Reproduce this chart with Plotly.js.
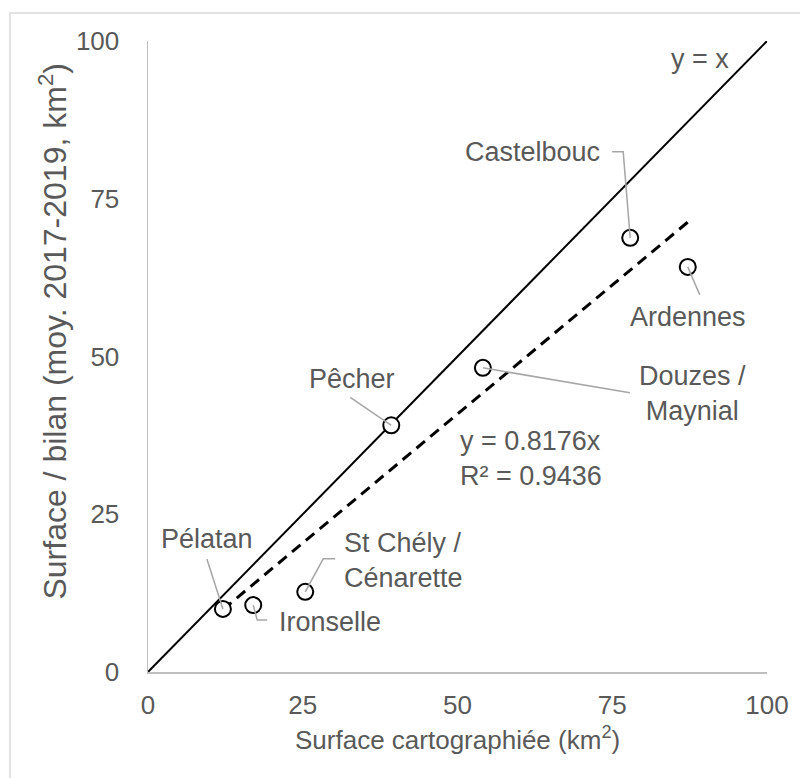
<!DOCTYPE html>
<html>
<head>
<meta charset="utf-8">
<script src="https://cdn.plot.ly/plotly-3.0.1.min.js"></script>
<style>html,body{margin:0;padding:0;background:#fff;}#chart{width:800px;height:778px;}</style>
</head>
<body>
<div id="chart"></div>
<script>
// Data
const sites = ["Pélatan", "Ironselle", "St Chély /<br>Cénarette", "Pêcher", "Douzes /<br>Maynial", "Castelbouc", "Ardennes"];
const surfaceCarto = [12.1, 17.0, 25.4, 39.3, 54.1, 77.9, 87.2];
const surfaceBilan = [10.0, 10.6, 12.7, 39.1, 48.2, 68.8, 64.2];
const trendSlope = 0.8176;
const trendR2 = 0.9436;
const tickVals = [0, 25, 50, 75, 100];

// Label placement (pixel offsets relative to each point)
const labelPos = [
  {dx: -16, dy: 70, anchor: "center", align: "center"},
  {dx: 24, dy: -17, anchor: "left", align: "left"},
  {dx: 37, dy: 31, anchor: "left", align: "left"},
  {dx: -39, dy: 46, anchor: "center", align: "center"},
  {dx: 210, dy: -26, anchor: "center", align: "center"},
  {dx: -98, dy: 86, anchor: "center", align: "center"},
  {dx: 0, dy: -50, anchor: "center", align: "center"}
];
const leaderPaths = [
  "M0,0 L-16,50",
  "M0,0 L4,-15 L14,-15",
  "M0,0 L18,33 L30,33",
  "M0,0 L-41,28",
  "M0,0 L147,-25",
  "M0,0 L-7,86 L-18,86",
  "M0,0 L12,-28"
];

const FONT = "Liberation Sans, Arial, sans-serif";
const GREY = "#595959";

const xMin = Math.min(...surfaceCarto), xMax = Math.max(...surfaceCarto);

const traces = [
  {x: [0, 100], y: [0, 100], mode: "lines", line: {color: "#000", width: 2}, hoverinfo: "skip"},
  {x: [xMin, xMax], y: [trendSlope * xMin, trendSlope * xMax], mode: "lines",
   line: {color: "#000", width: 3, dash: "11px,7px"}, hoverinfo: "skip"},
  {x: surfaceCarto, y: surfaceBilan, mode: "markers", text: sites,
   marker: {symbol: "circle", size: 16, color: "#fff", line: {color: "#000", width: 2}}}
];

const annotations = sites.map((s, i) => ({
  x: surfaceCarto[i], y: surfaceBilan[i], xref: "x", yref: "y",
  text: s, showarrow: false, xshift: labelPos[i].dx, yshift: labelPos[i].dy,
  xanchor: labelPos[i].anchor, yanchor: "middle", align: labelPos[i].align,
  font: {family: FONT, size: 27, color: GREY}
}));
annotations.push({x: 89.2, y: 97.1, xref: "x", yref: "y", text: "y = x", showarrow: false,
  xanchor: "center", yanchor: "middle", font: {family: FONT, size: 27, color: GREY}});
annotations.push({x: 50.1, y: 33.8, xref: "x", yref: "y",
  text: "y = " + trendSlope + "x<br>R² = " + trendR2, showarrow: false,
  xanchor: "left", yanchor: "middle", align: "left", font: {family: FONT, size: 27, color: GREY}});
annotations.push({x: 0.5, y: -0.105, xref: "paper", yref: "paper", yanchor: "middle",
  text: "Surface cartographiée (km<sup>2</sup>)", showarrow: false,
  font: {family: FONT, size: 26, color: GREY}});
annotations.push({x: -0.153, y: 0.54, xref: "paper", yref: "paper", xanchor: "center", yanchor: "middle",
  textangle: -90, text: "Surface / bilan (moy. 2017-2019, km<sup>2</sup>)", showarrow: false,
  font: {family: FONT, size: 32, color: GREY}});

const shapes = leaderPaths.map((p, i) => ({
  type: "path", xref: "x", yref: "y", xsizemode: "pixel", ysizemode: "pixel",
  xanchor: surfaceCarto[i], yanchor: surfaceBilan[i], path: p,
  line: {color: "#a6a6a6", width: 1.5}, layer: "above"
}));
shapes.push({type: "rect", xref: "paper", yref: "paper", x0: -0.223, x1: 1.08, y0: -0.2, y1: 1.0444,
  line: {color: "#d9d9d9", width: 1.5}, fillcolor: "rgba(0,0,0,0)", layer: "below"});

const axisCommon = {
  range: [0, 100], tickvals: tickVals, showgrid: false, zeroline: false,
  showline: true, linecolor: "#bfbfbf", linewidth: 1.5, ticks: "",
  tickfont: {family: FONT, size: 26, color: GREY}, fixedrange: true
};

const layout = {
  width: 800, height: 778,
  margin: {l: 148, r: 33, t: 41, b: 106},
  paper_bgcolor: "#fff", plot_bgcolor: "#fff",
  showlegend: false,
  xaxis: Object.assign({}, axisCommon, {ticklabelstandoff: 9}),
  yaxis: Object.assign({}, axisCommon, {ticklabelstandoff: 22}),
  annotations: annotations,
  shapes: shapes
};

Plotly.newPlot("chart", traces, layout, {staticPlot: true, displayModeBar: false});
</script>
</body>
</html>
